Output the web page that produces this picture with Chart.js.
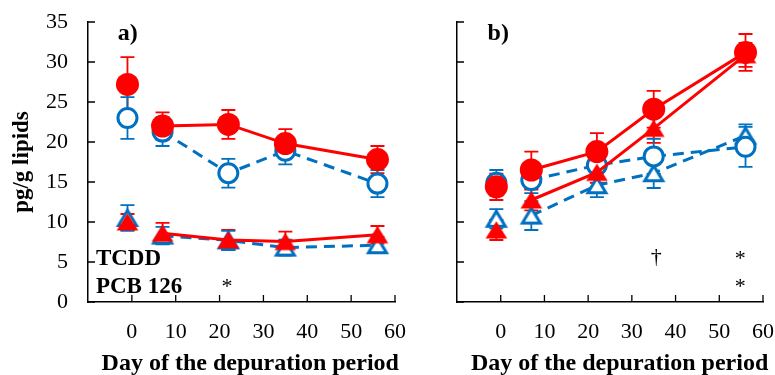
<!DOCTYPE html>
<html><head><meta charset="utf-8">
<script src="https://cdn.jsdelivr.net/npm/chart.js@4.4.0/dist/chart.umd.min.js"></script>
<style>
html,body{margin:0;padding:0;background:#fff;}
#wrap{position:relative;width:775px;height:375px;overflow:hidden;}
canvas{position:absolute;left:0;top:0;}
</style>
</head><body>
<div id="wrap"><canvas id="ca" width="775" height="375"></canvas><canvas id="cb" width="800" height="375"></canvas></div>
<script>
// ---------- data ----------
const days = [-1, 7, 22, 35, 56];
const xTickValues = [0, 10, 20, 30, 40, 50, 60];
const yTickValues = [0, 5, 10, 15, 20, 25, 30, 35];

// panel a
const aRedCircle   = [27.2, 22.0, 22.2, 19.8, 17.8];
const aRedCircleErr= [3.4, 1.7, 1.8, 1.8, 1.7];
const aBlueCircle  = [23.0, 21.3, 16.1, 18.9, 14.8];
const aBlueCircleErr=[2.6, 1.8, 1.8, 1.7, 1.7];
const aRedTri      = [10.0, 8.6, 7.75, 7.55, 8.4];
const aRedTriErr   = [1.0, 1.3, 1.25, 1.25, 1.1];
const aBlueTri     = [10.5, 8.3, 7.7, 6.8, 7.1];
const aBlueTriErr  = [1.6, 1.1, 1.2, 1.0, 1.0];

// panel b
const bRedCircle   = [14.4, 16.5, 18.8, 24.1, 31.2];
const bRedCircleErr= [1.65, 2.3, 2.3, 2.3, 2.3];
const bBlueCircle  = [14.9, 15.25, 17.1, 18.2, 19.4];
const bBlueCircleErr=[1.6, 1.65, 1.5, 2.2, 2.5];
const bRedTri      = [9.0, 12.75, 16.2, 21.7, 30.9];
const bRedTriErr   = [1.25, 1.3, 1.3, 1.8, 1.5];
const bBlueTri     = [10.4, 10.8, 14.6, 16.1, 20.8];
const bBlueTriErr  = [1.2, 1.8, 1.5, 1.85, 1.4];

const xTitle = 'Day of the depuration period';
const yTitle = 'pg/g lipids';

const RED = '#ff0000';
const BLUE = '#0070c0';
const SERIF = "'Liberation Serif', 'Times New Roman', serif";

// ---------- marker images ----------
function triRed() {
  const c = document.createElement('canvas'); c.width = 30; c.height = 30;
  const g = c.getContext('2d');
  g.fillStyle = RED; g.beginPath();
  g.moveTo(15, 15 - 8.8); g.lineTo(15 + 10.8, 15 + 8.5); g.lineTo(15 - 10.8, 15 + 8.5); g.closePath(); g.fill();
  return c;
}
function triBlue() {
  const c = document.createElement('canvas'); c.width = 30; c.height = 30;
  const g = c.getContext('2d');
  g.fillStyle = '#fff'; g.strokeStyle = BLUE; g.lineWidth = 3; g.lineJoin = 'miter';
  g.beginPath();
  g.moveTo(15, 15 - 7.5); g.lineTo(15 + 9, 15 + 7.5); g.lineTo(15 - 9, 15 + 7.5); g.closePath();
  g.fill(); g.stroke();
  return c;
}
const TRI_RED = triRed(), TRI_BLUE = triBlue();

const pts = arr => arr.map((v, i) => ({x: days[i], y: v}));
const hideFirst = {
  borderColor: ctx => ctx.p0DataIndex === 0 ? 'rgba(0,0,0,0)' : undefined
};

function datasets(rc, rce, rt, rte, bc, bce, bt, bte) {
  return [
    {data: pts(rc), errors: rce, errColor: RED, showLine: true, borderColor: RED, borderWidth: 3,
     pointStyle: 'circle', pointRadius: 11.5, pointBackgroundColor: RED, pointBorderColor: RED, pointBorderWidth: 0, segment: hideFirst},
    {data: pts(rt), errors: rte, errColor: RED, showLine: true, borderColor: RED, borderWidth: 3,
     pointStyle: TRI_RED, pointRadius: 10, segment: hideFirst},
    {data: pts(bc), errors: bce, errColor: BLUE, showLine: true, borderColor: BLUE, borderWidth: 3, borderDash: [11, 7],
     pointStyle: 'circle', pointRadius: 9.5, pointBackgroundColor: '#fff', pointBorderColor: BLUE, pointBorderWidth: 3, segment: hideFirst},
    {data: pts(bt), errors: bte, errColor: BLUE, showLine: true, borderColor: BLUE, borderWidth: 3, borderDash: [11, 7],
     pointStyle: TRI_BLUE, pointRadius: 10, segment: hideFirst}
  ];
}

// ---------- plugins ----------
const errorBars = {
  id: 'errorBars',
  beforeDatasetsDraw(chart) {
    const {ctx, scales: {y}} = chart;
    ctx.save();
    ctx.lineWidth = 1.8;
    chart.data.datasets.forEach((ds, di) => {
      const meta = chart.getDatasetMeta(di);
      ctx.strokeStyle = ds.errColor;
      meta.data.forEach((p, i) => {
        const v = ds.data[i].y, e = ds.errors[i];
        const top = y.getPixelForValue(v + e), bot = y.getPixelForValue(v - e);
        ctx.beginPath();
        ctx.moveTo(p.x, top); ctx.lineTo(p.x, bot);
        ctx.moveTo(p.x - 7, top); ctx.lineTo(p.x + 7, top);
        ctx.moveTo(p.x - 7, bot); ctx.lineTo(p.x + 7, bot);
        ctx.stroke();
      });
    });
    ctx.restore();
  }
};

const innerTicks = {
  id: 'innerTicks',
  afterDraw(chart) {
    const {ctx, scales: {x, y}, chartArea: a} = chart;
    ctx.save();
    ctx.strokeStyle = '#000'; ctx.lineWidth = 1.3;
    ctx.beginPath();
    xTickValues.forEach(v => { const px = x.getPixelForValue(v); ctx.moveTo(px, a.bottom); ctx.lineTo(px, a.bottom - 7); });
    yTickValues.forEach(v => { const py = y.getPixelForValue(v); ctx.moveTo(a.left, py); ctx.lineTo(a.left + 7, py); });
    ctx.stroke();
    ctx.restore();
  }
};

const notes = {
  id: 'notes',
  afterDraw(chart, args, opts) {
    const {ctx, scales: {x, y}} = chart;
    ctx.save();
    ctx.fillStyle = '#000';
    ctx.textBaseline = 'alphabetic';
    (opts.items || []).forEach(it => {
      ctx.font = (it.bold ? 'bold ' : '') + it.size + 'px ' + SERIF;
      ctx.textAlign = it.align || 'left';
      ctx.fillText(it.text, x.getPixelForValue(it.x), y.getPixelForValue(it.y));
    });
    ctx.restore();
  }
};

function makeOptions(panel, items) {
  const isA = panel === 'a';
  return {
    responsive: false,
    animation: false,
    events: [],
    layout: {padding: isA ? {left: 0, right: 380, top: 22, bottom: 0} : {left: 447, right: 37, top: 22, bottom: 0}},
    plugins: {legend: {display: false}, tooltip: {enabled: false}, notes: {items}},
    scales: {
      x: {
        type: 'linear', min: -10, max: 60,
        afterFit: s => { s.height = 73; },
        grid: {display: false, drawTicks: true, tickLength: 17},
        border: {display: true, color: '#000', width: 1.5},
        ticks: {stepSize: 10, autoSkip: false, maxRotation: 0, padding: 0, color: '#000',
                font: {family: SERIF, size: 22},
                callback: v => v < 0 ? '' : v},
        title: {display: false}
      },
      y: {
        min: 0, max: 35,
        afterFit: s => { s.width = isA ? 88 : 10; },
        grid: {display: false, drawTicks: true, tickLength: 20},
        border: {display: true, color: '#000', width: 1.5},
        ticks: {display: isA, stepSize: 5, padding: 0, color: '#000', font: {family: SERIF, size: 22}},
        title: {display: isA, text: yTitle, color: '#000',
                font: {family: SERIF, size: 23, weight: 'bold'}, padding: {top: 8, bottom: 0}}
      }
    }
  };
}

const notesA = [
  {text: 'a)', x: -3.2, y: 32.8, size: 24, bold: true},
  {text: 'TCDD', x: -8.2, y: 4.6, size: 23, bold: true},
  {text: 'PCB 126', x: -8.2, y: 1.1, size: 23, bold: true},
  {text: '*', x: 21.7, y: 1.1, size: 22, align: 'center'},
  {text: xTitle, x: 27.0, y: -8.5, size: 24, bold: true, align: 'center'}
];
const notesB = [
  {text: 'b)', x: -3.0, y: 32.7, size: 24, bold: true},
  {text: '†', x: 35.6, y: 4.9, size: 22, align: 'center'},
  {text: '*', x: 54.8, y: 4.6, size: 22, align: 'center'},
  {text: '*', x: 54.8, y: 1.1, size: 22, align: 'center'},
  {text: xTitle, x: 27.2, y: -8.5, size: 24, bold: true, align: 'center'}
];

new Chart(document.getElementById('ca'), {
  type: 'scatter',
  data: {datasets: datasets(aRedCircle, aRedCircleErr, aRedTri, aRedTriErr, aBlueCircle, aBlueCircleErr, aBlueTri, aBlueTriErr)},
  options: makeOptions('a', notesA),
  plugins: [errorBars, innerTicks, notes]
});
new Chart(document.getElementById('cb'), {
  type: 'scatter',
  data: {datasets: datasets(bRedCircle, bRedCircleErr, bRedTri, bRedTriErr, bBlueCircle, bBlueCircleErr, bBlueTri, bBlueTriErr)},
  options: makeOptions('b', notesB),
  plugins: [errorBars, innerTicks, notes]
});
</script>
</body></html>
